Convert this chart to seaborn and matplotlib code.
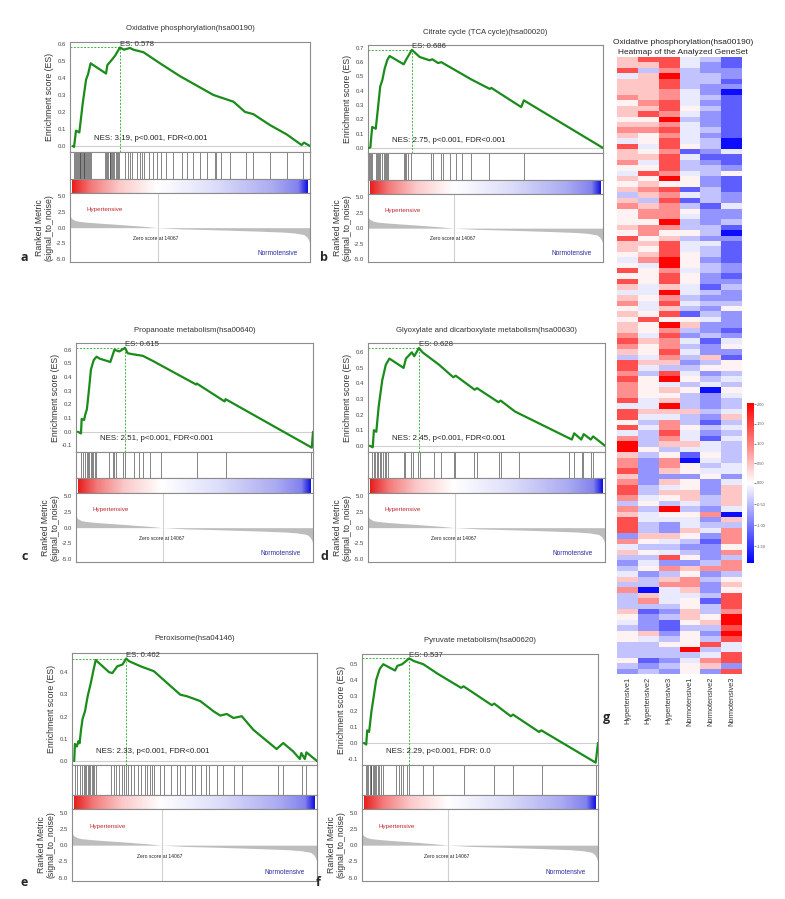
import numpy as np
import pandas as pd
import matplotlib
matplotlib.use("Agg")
import matplotlib.pyplot as plt
import seaborn as sns
from matplotlib.colors import LinearSegmentedColormap, TwoSlopeNorm

sns.set_style("white")
plt.rcParams['font.family'] = ['Liberation Sans', 'DejaVu Sans']

# ---- ranked gene list (shared by all GSEA panels) ----
N_GENES = 38500
ZERO_CROSS = 14067
METRIC_RANK_K = [0, 0.2, 0.8, 1.5, 3, 5, 8, 10, 12, 14.067, 18, 22, 26, 30, 34, 36, 37.5, 38, 38.3, 38.5]
METRIC_VALUE = [2.0, 1.5, 1.15, 1.0, 0.85, 0.7, 0.5, 0.35, 0.2, 0.0, -0.2, -0.3, -0.42, -0.55, -0.7,
                -0.85, -1.1, -1.5, -2.0, -2.6]

# ---- panel a: oxidative phosphorylation ----
ES_RANK_A = [0.42, 0.65, 0.96, 1.5, 2.04, 2.58, 2.89, 3.31, 5.78, 6.0, 6.7, 7.24, 8.01, 8.66, 9.63, 10.16,
             11.78, 14.44, 17.63, 22.98, 23.52, 26.22, 28.07, 29.41, 32.07, 34.77, 37.15, 37.54, 38.5]
ES_A = [0.0, -0.005, 0.09, 0.08, 0.25, 0.39, 0.42, 0.485, 0.425, 0.475, 0.505, 0.53, 0.578, 0.565, 0.575,
        0.565, 0.55, 0.485, 0.41, 0.30, 0.293, 0.26, 0.20, 0.187, 0.123, 0.068, 0.006, 0.02, 0.0]
HITS_A = [0.65, 0.77, 0.92, 1.16, 1.27, 1.39, 1.54, 1.66, 1.77, 1.93, 2.04, 2.19, 2.31, 2.46, 2.58, 2.70,
          2.89, 3.08, 3.27, 3.39, 5.62, 5.78, 5.97, 6.16, 6.35, 6.47, 6.62, 6.78, 6.93, 7.12, 7.32, 7.51,
          7.70, 7.89, 8.86, 9.24, 9.63, 10.0, 10.8, 11.2, 11.6, 11.9, 12.7, 13.3, 13.9, 14.6, 15.4, 16.6,
          17.9, 18.7, 19.8, 20.9, 21.9, 23.3, 23.5, 24.3, 25.7, 28.3, 29.4, 32.1, 34.8, 37.4]

# ---- panel b: citrate cycle ----
ES_RANK_B = [0.15, 0.39, 0.54, 0.69, 1.27, 1.66, 2.0, 2.35, 2.73, 3.16, 3.54, 5.85, 6.28, 6.81, 7.2, 8.47,
             10.09, 10.55, 11.47, 12.01, 16.94, 19.94, 20.21, 25.1, 25.53, 38.5]
ES_B = [0.0, 0.005, 0.08, 0.147, 0.135, 0.29, 0.43, 0.475, 0.555, 0.615, 0.643, 0.585, 0.62, 0.658, 0.686,
        0.636, 0.613, 0.62, 0.594, 0.6, 0.479, 0.413, 0.42, 0.286, 0.333, 0.0]
HITS_B = [0.15, 0.39, 0.54, 0.69, 1.35, 1.54, 1.69, 1.85, 2.0, 2.35, 2.54, 2.73, 2.96, 3.16, 3.35, 5.85,
          6.08, 6.28, 6.62, 7.01, 10.4, 10.7, 11.9, 12.3, 13.5, 14.4, 15.4, 16.9, 19.9, 25.5]

# ---- panel c: propanoate metabolism ----
ES_RANK_C = [0.31, 0.81, 0.92, 1.31, 1.5, 1.77, 2.08, 2.43, 2.89, 3.35, 3.81, 5.58, 6.24, 7.05, 7.97, 8.39,
             9.2, 10.86, 12.47, 19.52, 19.64, 24.14, 24.29, 38.3, 38.5]
ES_C = [0.0, -0.012, 0.094, 0.086, 0.126, 0.165, 0.296, 0.457, 0.526, 0.55, 0.536, 0.511, 0.6, 0.588, 0.615,
        0.575, 0.568, 0.556, 0.519, 0.346, 0.353, 0.222, 0.239, -0.116, 0.0]
HITS_C = [0.81, 1.08, 1.5, 1.73, 1.96, 2.16, 2.39, 2.62, 2.81, 3.04, 3.27, 5.43, 5.97, 6.24, 6.51, 7.7, 8.0,
          9.47, 10.3, 10.9, 12.0, 13.8, 19.6, 24.3, 38.2]

# ---- panel d: glyoxylate and dicarboxylate metabolism ----
ES_RANK_D = [0.31, 0.77, 0.96, 1.35, 1.73, 2.31, 2.89, 3.47, 5.78, 6.16, 7.12, 7.51, 8.28, 8.86, 11.55,
             13.86, 14.25, 17.33, 17.71, 21.18, 21.56, 23.87, 26.95, 30.03, 33.11, 33.5, 34.65, 35.04,
             36.19, 36.58, 38.5]
ES_D = [0.0, -0.01, 0.1, 0.09, 0.25, 0.42, 0.52, 0.56, 0.5, 0.56, 0.6, 0.575, 0.628, 0.6, 0.52, 0.44, 0.45,
        0.36, 0.37, 0.28, 0.29, 0.22, 0.16, 0.1, 0.04, 0.08, 0.04, 0.075, 0.04, 0.06, 0.0]
HITS_D = [0.65, 0.96, 1.16, 1.39, 1.62, 1.93, 2.19, 2.43, 2.7, 2.93, 3.27, 5.78, 6.08, 6.93, 7.32, 8.09,
          8.47, 10.8, 11.9, 13.9, 14.2, 17.3, 17.7, 21.2, 21.6, 24.6, 32.7, 33.5, 34.7, 35.0, 36.2, 36.6]

# ---- panel e: peroxisome ----
ES_RANK_E = [0.35, 0.46, 0.77, 1.0, 1.19, 1.42, 1.66, 2.04, 2.46, 2.96, 3.39, 3.73, 5.85, 6.35, 7.12, 7.93,
             8.51, 8.97, 10.78, 12.86, 14.94, 17.02, 18.06, 20.17, 22.25, 23.29, 24.33, 25.37, 26.68,
             28.49, 32.15, 33.19, 34.73, 35.8, 36.04, 36.58, 36.84, 38.5]
ES_E = [0.0, 0.077, 0.066, 0.089, 0.08, 0.141, 0.19, 0.224, 0.292, 0.352, 0.412, 0.455, 0.4, 0.397, 0.427,
        0.435, 0.462, 0.45, 0.427, 0.405, 0.352, 0.299, 0.292, 0.27, 0.224, 0.205, 0.212, 0.194, 0.202,
        0.141, 0.054, 0.081, 0.044, 0.009, 0.036, 0.009, 0.039, 0.0]
HITS_E = [0.46, 0.77, 1.19, 1.62, 1.81, 2.04, 2.23, 2.46, 2.66, 2.85, 3.08, 3.27, 3.47, 3.7, 6.08, 6.62,
          6.89, 7.39, 7.78, 8.16, 8.47, 8.86, 9.32, 9.74, 10.3, 10.8, 11.4, 11.8, 12.2, 12.6, 12.9, 13.9,
          14.4, 15.5, 16.5, 17.0, 17.8, 18.9, 19.3, 20.2, 21.1, 21.5, 22.8, 23.7, 25.4, 26.7, 32.4, 33.1,
          36.1, 36.8]

# ---- panel f: pyruvate metabolism ----
ES_RANK_F = [0.31, 0.69, 0.85, 1.16, 1.54, 1.93, 2.31, 2.89, 3.47, 5.39, 5.78, 6.55, 7.7, 8.47, 10.01,
             12.32, 16.17, 16.56, 21.18, 21.56, 24.26, 24.64, 28.88, 29.26, 38.12, 38.5]
ES_F = [0.0, -0.01, 0.08, 0.07, 0.2, 0.3, 0.4, 0.47, 0.5, 0.46, 0.49, 0.5, 0.537, 0.52, 0.5, 0.44, 0.35,
        0.36, 0.24, 0.25, 0.17, 0.18, 0.07, 0.08, -0.125, 0.0]
HITS_F = [0.69, 0.85, 1.04, 1.23, 1.39, 1.54, 1.73, 1.93, 2.12, 2.31, 2.54, 2.77, 3.08, 3.39, 5.58, 5.97,
          6.35, 6.74, 7.32, 7.7, 10.0, 11.6, 16.6, 21.6, 24.6, 29.3, 38.1]

TITLES = ["Oxidative phosphorylation(hsa00190)", "Citrate cycle (TCA cycle)(hsa00020)",
          "Propanoate metabolism(hsa00640)", "Glyoxylate and dicarboxylate metabolism(hsa00630)",
          "Peroxisome(hsa04146)", "Pyruvate metabolism(hsa00620)"]
NES_LABELS = ["NES: 3.19, p<0.001, FDR<0.001", "NES: 2.75, p<0.001, FDR<0.001",
              "NES: 2.51, p<0.001, FDR<0.001", "NES: 2.45, p<0.001, FDR<0.001",
              "NES: 2.33, p<0.001, FDR<0.001", "NES: 2.29, p<0.001, FDR: 0.0"]
ES_TICKS = [[0.0, 0.1, 0.2, 0.3, 0.4, 0.5, 0.6],
            [0.0, 0.1, 0.2, 0.3, 0.4, 0.5, 0.6, 0.7],
            [-0.1, 0.0, 0.1, 0.2, 0.3, 0.4, 0.5, 0.6],
            [0.0, 0.1, 0.2, 0.3, 0.4, 0.5, 0.6],
            [0.0, 0.1, 0.2, 0.3, 0.4],
            [-0.1, 0.0, 0.1, 0.2, 0.3, 0.4, 0.5]]
METRIC_TICKS = [5.0, 2.5, 0.0, -2.5, -5.0]

# ---- heatmap of the analysed gene set (digit = colour level index) ----
SAMPLES = ["Hypertensive1", "Hypertensive2", "Hypertensive3",
           "Normotensive1", "Normotensive2", "Normotensive3"]
LEVELS = [-1.8, -1.2, -0.8, -0.45, -0.15, 0.1, 0.45, 0.9, 1.4, 2.0]
HEAT_ROWS = [
    "688431", "668421", "837322", "469332", "668331", "668322", "667420", "767431", "578421", "668531",
    "687421", "559321", "667421", "778431", "657421", "458430", "848530", "657124", "668411", "748321",
    "558332", "487435", "659521", "565521", "678131", "367432", "638132", "767314",
    "577522", "577422", "559323", "677331", "575530", "856322", "668441", "658431", "568531", "479521",
    "549532", "857432", "558521", "858522", "646413", "449432", "657322", "748433", "546325", "658132",
    "585542", "659622", "657321", "748232", "867414", "757325", "658422", "347361",
    "866235", "843355", "738423", "859534", "754343", "756505", "755324", "846323", "449323", "866634",
    "844326", "537313", "847534", "438423", "737414", "936643", "953443", "635153", "727043", "727534",
    "826544", "622252", "726524", "834526", "836626", "745636", "353436", "739324",
    "645570", "844426", "832433", "832647", "266527", "754317", "433225", "654327", "338523", "242237",
    "357677", "423523", "636735", "337726", "704625", "364438", "374518", "333538", "612637", "523659",
    "421569", "321338", "562529", "543538", "335584", "333934", "333348", "512478", "323562", "232528",
]
CBAR_TICKS = [2.0, 1.5, 1.0, 0.5, 0.0, -0.5, -1.0, -1.5]

# ---- layout (pixels of the 785x899 canvas) ----
W, H = 785, 899
# left, right, es_top, es_bottom, hits_bottom, strip_bottom, metric_bottom, title_y
BOXES = [(70, 310, 42, 152, 179, 193, 262, 29),
         (368, 603, 45, 153, 180, 194, 262, 32),
         (76, 313, 343, 452, 478, 493, 562, 331),
         (368, 605, 343, 452, 478, 493, 562, 331),
         (72, 317, 653, 765, 795, 809, 881, 639),
         (362, 598, 654, 765, 795, 809, 881, 640)]
YLIMS = [(-0.035, 0.61), (-0.035, 0.72), (-0.148, 0.65), (-0.04, 0.66), (-0.018, 0.487), (-0.14, 0.565)]
LETTER_POS = [(24, 258, 'a'), (324, 258, 'b'), (25, 557, 'c'), (324, 557, 'd'),
              (24, 883, 'e'), (318, 883, 'f'), (606, 718, 'g')]

FRAME = '#8c8c8c'
GREEN = '#1a8c1a'
DASH_GREEN = '#3cb43c'


def px_box(left, right, top, bottom):
    return [left / W, 1 - bottom / H, (right - left) / W, (bottom - top) / H]


def style_frame(ax):
    for s in ax.spines.values():
        s.set_color(FRAME)
        s.set_linewidth(0.8)
    ax.tick_params(length=0, labelsize=4.3, labelcolor='#444444', pad=3)


strip_cmap = LinearSegmentedColormap.from_list(
    'strip', [(0, '#e81e1e'), (0.08, '#f37a7a'), (0.2, '#fbc9c9'), (0.36, '#ffffff'),
              (0.6, '#dedefa'), (0.85, '#ababf2'), (0.96, '#8282ee'), (1.0, '#1414e0')])

fig = plt.figure(figsize=(W / 100, H / 100), dpi=100)

es_sets = [(ES_RANK_A, ES_A, HITS_A), (ES_RANK_B, ES_B, HITS_B), (ES_RANK_C, ES_C, HITS_C),
           (ES_RANK_D, ES_D, HITS_D), (ES_RANK_E, ES_E, HITS_E), (ES_RANK_F, ES_F, HITS_F)]

for i, (ranks_k, es, hits_k) in enumerate(es_sets):
    left, right, t_es, b_es, b_hit, b_strip, b_met, title_y = BOXES[i]
    ranks = np.array(ranks_k) * 1000
    es = np.array(es)

    # running enrichment score
    ax = fig.add_axes(px_box(left, right, t_es, b_es))
    style_frame(ax)
    ax.axhline(0, color='#cfcfcf', lw=0.8, zorder=1)
    df = pd.DataFrame({'rank': ranks, 'es': es})
    sns.lineplot(data=df, x='rank', y='es', ax=ax, color=GREEN, linewidth=1.6,
                 estimator=None, sort=False, zorder=3)
    peak = int(np.argmax(es))
    ylo, yhi = YLIMS[i]
    ax.plot([0, ranks[peak]], [es[peak], es[peak]], color=DASH_GREEN, lw=0.7, ls=(0, (2, 1.5)), zorder=2)
    ax.plot([ranks[peak], ranks[peak]], [ylo, es[peak]], color=DASH_GREEN, lw=0.7, ls=(0, (2, 1.5)), zorder=2)
    ax.text(ranks[peak], es[peak] + (yhi - ylo) * 0.03, f"ES: {es[peak]:.3f}", fontsize=5.6,
            color='#333333', ha='left', va='center')
    ax.text(0.1, 0.12, NES_LABELS[i], transform=ax.transAxes, fontsize=5.7, color='#222222',
            ha='left', va='center')
    ax.set_xlim(0, N_GENES)
    ax.set_ylim(ylo, yhi)
    ax.set_yticks(ES_TICKS[i])
    ax.set_yticklabels([f"{t:.1f}" for t in ES_TICKS[i]])
    ax.set_xticks([])
    ax.set_xlabel('')
    ax.set_ylabel('')
    fig.text((left - 21) / W, 1 - (t_es + b_es) / 2 / H, "Enrichment score (ES)", rotation=90,
             ha='center', va='center', fontsize=6.3, color='#333333')
    fig.text((left + right) / 2 / W, 1 - title_y / H, TITLES[i], ha='center', va='center',
             fontsize=5.6, color='#333333')

    # hit positions
    axh = fig.add_axes(px_box(left, right, b_es, b_hit))
    style_frame(axh)
    axh.vlines(np.array(hits_k) * 1000, 0, 1, color='#333333', lw=0.42)
    axh.set_xlim(0, N_GENES)
    axh.set_ylim(0, 1)
    axh.set_xticks([])
    axh.set_yticks([])

    # colour strip of the ranked list
    axs = fig.add_axes(px_box(left, right, b_hit, b_strip))
    style_frame(axs)
    axs.imshow(np.linspace(0, 1, 256)[None, :], aspect='auto', cmap=strip_cmap,
               extent=(0.01, 0.99, 0.0, 1.0))
    axs.set_xlim(0, 1)
    axs.set_ylim(0, 1)
    axs.set_xticks([])
    axs.set_yticks([])

    # ranked list metric
    axm = fig.add_axes(px_box(left, right, b_strip, b_met))
    style_frame(axm)
    mr = np.array(METRIC_RANK_K) * 1000
    axm.fill_between(mr, 0, METRIC_VALUE, color='#bdbdbd', lw=0)
    axm.axvline(ZERO_CROSS, color='#d0d0d0', lw=0.8)
    axm.set_xlim(0, N_GENES)
    axm.set_ylim(-5.5, 5.55)
    axm.set_yticks(METRIC_TICKS)
    axm.set_yticklabels([f"{t:.1f}" for t in METRIC_TICKS])
    axm.set_xticks([])
    axm.text(0.07, 0.755, "Hypertensive", transform=axm.transAxes, color='#c0282d', fontsize=4.5,
             ha='left', va='center')
    axm.text(0.264, 0.344, f"Zero score at {ZERO_CROSS}", transform=axm.transAxes, color='#222222',
             fontsize=3.6, ha='left', va='center')
    axm.text(0.95, 0.118, "Normotensive", transform=axm.transAxes, color='#2c2ca0', fontsize=4.7,
             ha='right', va='center')
    fig.text((left - 26) / W, 1 - (b_strip + b_met) / 2 / H, "Ranked Metric\n(signal_to_noise)",
             rotation=90, ha='center', va='center', fontsize=6.3, color='#333333', linespacing=1.0)

# ---- heatmap panel ----
heat = pd.DataFrame([[LEVELS[int(c)] for c in row] for row in HEAT_ROWS], columns=SAMPLES)
axg = fig.add_axes(px_box(617, 742, 57, 674))
cax = fig.add_axes(px_box(747, 754, 403, 563))
norm = TwoSlopeNorm(vmin=-1.9, vcenter=0.0, vmax=2.03)
sns.heatmap(heat, ax=axg, cmap='bwr', norm=norm, cbar_ax=cax, xticklabels=SAMPLES, yticklabels=False)
axg.tick_params(axis='x', length=0, labelsize=5.3, pad=2, labelcolor='#333333')
plt.setp(axg.get_xticklabels(), rotation=90, ha='center', va='top')
cax.set_yticks(CBAR_TICKS)
cax.set_yticklabels([f"{t:.2f}" for t in CBAR_TICKS])
cax.tick_params(labelsize=2.8, length=1.2, width=0.4, pad=1, labelcolor='#555555')
fig.text(683 / W, 1 - 43 / H, "Oxidative phosphorylation(hsa00190)", ha='center', va='center',
         fontsize=6.0, color='#222222')
fig.text(683 / W, 1 - 52.5 / H, "Heatmap of the Analyzed GeneSet", ha='center', va='center',
         fontsize=6.0, color='#222222')

for x, y, letter in LETTER_POS:
    fig.text(x / W, 1 - y / H, letter, ha='center', va='center', fontsize=9, fontweight='bold',
             family=['Open Sans', 'DejaVu Sans'])

fig.savefig('out.png', dpi=100)
